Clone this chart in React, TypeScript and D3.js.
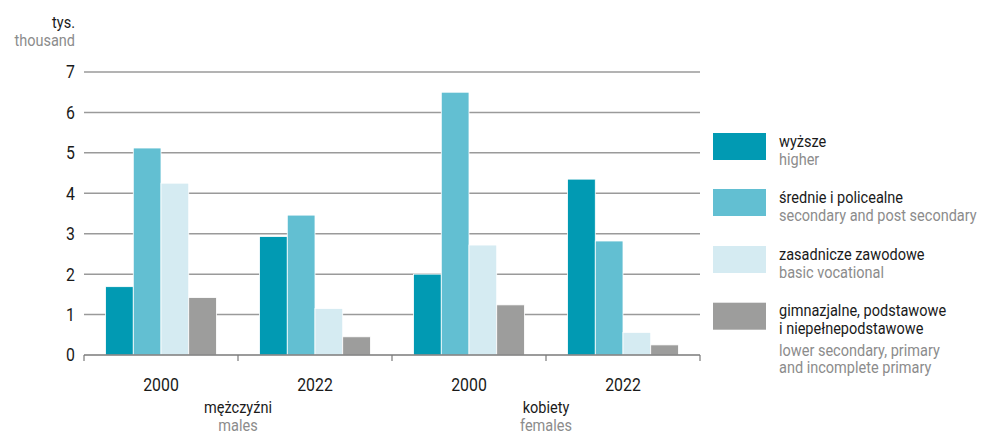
import React from "react";
import * as d3 from "d3";

const groups = ["m2000", "m2022", "k2000", "k2022"];
const groupLabels = ["2000", "2022", "2000", "2022"];
const series = ["higher", "secondary", "vocational", "lower"];
const higher = [1.69, 2.93, 2.0, 4.35];
const secondary = [5.12, 3.46, 6.5, 2.82];
const vocational = [4.25, 1.15, 2.72, 0.56];
const lower = [1.42, 0.45, 1.24, 0.25];
const yTicks = [0, 1, 2, 3, 4, 5, 6, 7];
const colors = ["#019ab3", "#62bfd2", "#d5ebf2", "#9d9d9c"];
const legendPl = [["wyższe"], ["średnie i policealne"], ["zasadnicze zawodowe"], ["gimnazjalne, podstawowe", "i niepełnepodstawowe"]];
const legendEn = [["higher"], ["secondary and post secondary"], ["basic vocational"], ["lower secondary, primary", "and incomplete primary"]];
const sexPl = ["mężczyźni", "kobiety"];
const sexEn = ["males", "females"];

const values = [higher, secondary, vocational, lower];

const SX = 0.88;

function T(props: { x: number; y: number; anchor?: string; size: number; fill: string; children: React.ReactNode; dy?: string }) {
  const { x, y, anchor = "start", size, fill, children, dy } = props;
  return (
    <g transform={`translate(${x},${y}) scale(${SX},1)`}>
      <text x={0} y={0} dy={dy} textAnchor={anchor as any} fontSize={size} fill={fill}>{children}</text>
    </g>
  );
}

export default function App() {
  const W = 982, H = 434;
  const x0 = 84, x1 = 700;
  const y = d3.scaleLinear().domain([0, 7]).range([355, 72]);
  const xb = d3.scaleBand().domain(groups).range([x0, x1]).paddingInner(0.28).paddingOuter(0.14);
  const xs = d3.scaleBand().domain(series).range([0, xb.bandwidth()]);
  const step = xb.step();
  const dark = "#1a1a1a", gray = "#8c8c8c";
  const font = "Roboto, 'Noto Sans', sans-serif";
  const legendRowY = [133, 189, 246, 302.7];
  return (
    <svg width={W} height={H} style={{ position: "absolute", left: 0, top: 0 }} fontFamily={font}>
      <T x={75} y={28} anchor="end" size={16.5} fill={dark}>tys.</T>
      <T x={75} y={46} anchor="end" size={16.5} fill={gray}>thousand</T>
      {yTicks.map((t) => (
        <g key={t}>
          {t > 0 && <line x1={x0} x2={x1} y1={y(t)} y2={y(t)} stroke="#9a9a9a" strokeWidth={1.5} />}
          <T x={75} y={y(t)} dy="0.36em" anchor="end" size={18} fill={dark}>{t}</T>
        </g>
      ))}
      {groups.map((g, gi) => (
        <g key={g}>
          {series.map((s, si) => {
            const v = values[si][gi];
            return (
              <rect key={s} x={(xb(g) as number) + (xs(s) as number)} y={y(v)} width={xs.bandwidth()} height={y(0) - y(v)}
                fill={colors[si]} stroke="#ffffff" strokeWidth={0.8} />
            );
          })}
        </g>
      ))}
      <line x1={x0} x2={x1} y1={355} y2={355} stroke="#7a7a7a" strokeWidth={1.5} />
      {d3.range(5).map((i) => (
        <line key={i} x1={x0 + i * step} x2={x0 + i * step} y1={355} y2={361} stroke="#7a7a7a" strokeWidth={1.2} />
      ))}
      {groups.map((g, gi) => (
        <T key={g} x={(xb(g) as number) + xb.bandwidth() / 2} y={391} anchor="middle" size={18} fill={dark}>{groupLabels[gi]}</T>
      ))}
      {sexPl.map((s, i) => (
        <g key={s}>
          <T x={x0 + step * (1 + 2 * i)} y={413} anchor="middle" size={16.5} fill={dark}>{s}</T>
          <T x={x0 + step * (1 + 2 * i)} y={431} anchor="middle" size={16.5} fill={gray}>{sexEn[i]}</T>
        </g>
      ))}
      {series.map((s, i) => {
        const ry = legendRowY[i];
        const pl = legendPl[i];
        const en = legendEn[i];
        const base = ry + 13.7;
        return (
          <g key={s}>
            <rect x={713} y={ry} width={53} height={27} fill={colors[i]} />
            {pl.map((t, j) => (
              <T key={"p" + j} x={779} y={base + j * 17.3} size={16.5} fill={dark}>{t}</T>
            ))}
            {en.map((t, j) => (
              <T key={"e" + j} x={779} y={base + (pl.length - 1) * 17.3 + (pl.length > 1 ? 22.4 : 18.3) + j * 16.4} size={16.5} fill={gray}>{t}</T>
            ))}
          </g>
        );
      })}
    </svg>
  );
}
